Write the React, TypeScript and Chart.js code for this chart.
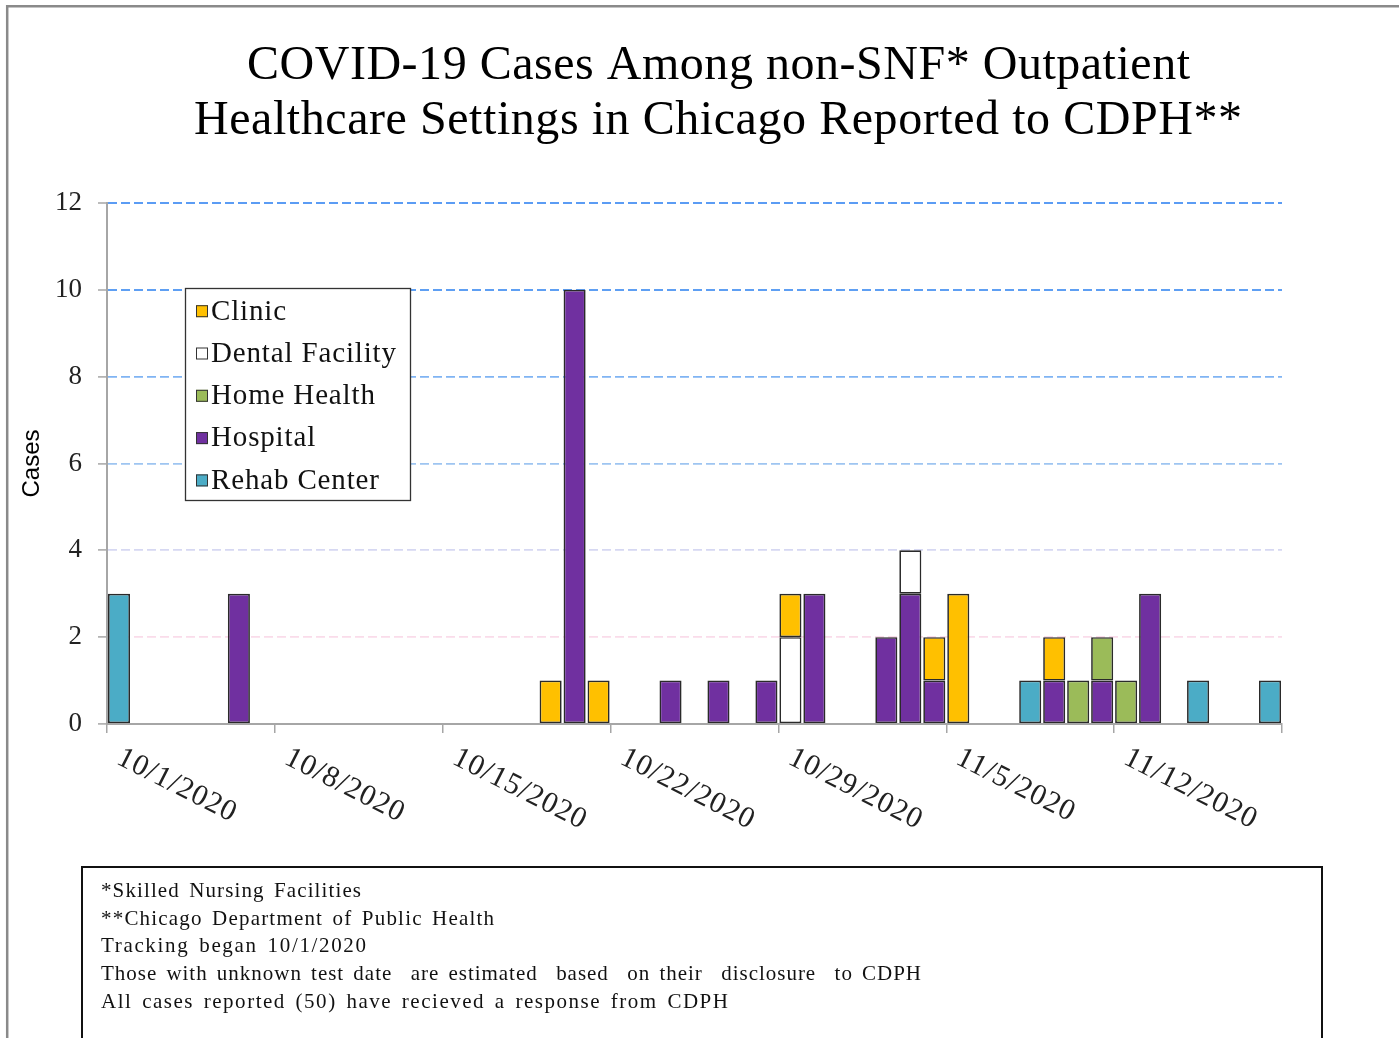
import React, { useEffect, useRef } from 'react';
import { Chart, registerables } from 'chart.js';

Chart.register(...registerables);

// ---------- DATA ----------
const categories: string[] = [
  '10/1/2020', '10/2/2020', '10/3/2020', '10/4/2020', '10/5/2020', '10/6/2020', '10/7/2020',
  '10/8/2020', '10/9/2020', '10/10/2020', '10/11/2020', '10/12/2020', '10/13/2020', '10/14/2020',
  '10/15/2020', '10/16/2020', '10/17/2020', '10/18/2020', '10/19/2020', '10/20/2020', '10/21/2020',
  '10/22/2020', '10/23/2020', '10/24/2020', '10/25/2020', '10/26/2020', '10/27/2020', '10/28/2020',
  '10/29/2020', '10/30/2020', '10/31/2020', '11/1/2020', '11/2/2020', '11/3/2020', '11/4/2020',
  '11/5/2020', '11/6/2020', '11/7/2020', '11/8/2020', '11/9/2020', '11/10/2020', '11/11/2020',
  '11/12/2020', '11/13/2020', '11/14/2020', '11/15/2020', '11/16/2020', '11/17/2020', '11/18/2020',
];

const tickLabels: string[] = ['10/1/2020', '10/8/2020', '10/15/2020', '10/22/2020', '10/29/2020', '11/5/2020', '11/12/2020'];

const hospital: number[] = [
  0, 0, 0, 0, 0, 3, 0,
  0, 0, 0, 0, 0, 0, 0,
  0, 0, 0, 0, 0, 10, 0,
  0, 0, 1, 0, 1, 0, 1,
  0, 3, 0, 0, 2, 3, 1,
  0, 0, 0, 0, 1, 0, 1,
  0, 3, 0, 0, 0, 0, 0,
];
const dental: number[] = [
  0, 0, 0, 0, 0, 0, 0,
  0, 0, 0, 0, 0, 0, 0,
  0, 0, 0, 0, 0, 0, 0,
  0, 0, 0, 0, 0, 0, 0,
  2, 0, 0, 0, 0, 1, 0,
  0, 0, 0, 0, 0, 0, 0,
  0, 0, 0, 0, 0, 0, 0,
];
const clinic: number[] = [
  0, 0, 0, 0, 0, 0, 0,
  0, 0, 0, 0, 0, 0, 0,
  0, 0, 0, 0, 1, 0, 1,
  0, 0, 0, 0, 0, 0, 0,
  1, 0, 0, 0, 0, 0, 1,
  3, 0, 0, 0, 1, 0, 0,
  0, 0, 0, 0, 0, 0, 0,
];
const homeHealth: number[] = [
  0, 0, 0, 0, 0, 0, 0,
  0, 0, 0, 0, 0, 0, 0,
  0, 0, 0, 0, 0, 0, 0,
  0, 0, 0, 0, 0, 0, 0,
  0, 0, 0, 0, 0, 0, 0,
  0, 0, 0, 0, 0, 1, 1,
  1, 0, 0, 0, 0, 0, 0,
];
const rehab: number[] = [
  3, 0, 0, 0, 0, 0, 0,
  0, 0, 0, 0, 0, 0, 0,
  0, 0, 0, 0, 0, 0, 0,
  0, 0, 0, 0, 0, 0, 0,
  0, 0, 0, 0, 0, 0, 0,
  0, 0, 0, 1, 0, 0, 0,
  0, 0, 0, 1, 0, 0, 1,
];

const seriesNames: string[] = ['Clinic', 'Dental Facility', 'Home Health', 'Hospital', 'Rehab Center'];
const seriesColors: string[] = ['#FFC000', '#FFFFFF', '#9BBB59', '#7030A0', '#4BACC6'];
const seriesData: number[][] = [clinic, dental, homeHealth, hospital, rehab];
// stacking order, bottom to top (indices into seriesNames)
const stackOrder: number[] = [3, 1, 0, 2, 4];

const titleLines: string[] = [
  'COVID-19 Cases Among non-SNF* Outpatient',
  'Healthcare Settings in Chicago Reported to CDPH**',
];
const yAxisTitle = 'Cases';
const footnotes: string[] = [
  '*Skilled Nursing Facilities',
  '**Chicago Department of Public Health',
  'Tracking began 10/1/2020',
  'Those with unknown test date  are estimated  based  on their  disclosure  to CDPH',
  'All cases reported (50) have recieved a response from CDPH',
];

// ---------- STYLE ----------
const W = 1399;
const H = 1038;
const SERIF = '"Liberation Serif", "Times New Roman", serif';
const gridColorByValue: Record<number, string> = {
  12: '#5B9CF4',
  10: '#5E9FF3',
  8: '#80B4F3',
  6: '#9EC5F1',
  4: '#D6D8F2',
  2: '#FADCEA',
  0: 'rgba(0,0,0,0)',
};

function drawFitted(ctx: CanvasRenderingContext2D, text: string, x: number, y: number, width: number) {
  (ctx as any).letterSpacing = '0px';
  const w0 = ctx.measureText(text).width;
  const ls = (width - w0) / Math.max(1, text.length - 1);
  (ctx as any).letterSpacing = ls.toFixed(3) + 'px';
  ctx.fillText(text, x, y);
  (ctx as any).letterSpacing = '0px';
}

const overlayPlugin = {
  id: 'overlay',
  beforeDraw(chart: any) {
    const ctx: CanvasRenderingContext2D = chart.ctx;
    ctx.save();
    ctx.fillStyle = '#ffffff';
    ctx.fillRect(0, 0, W, H);
    ctx.strokeStyle = '#8a8a8a';
    ctx.lineWidth = 2.5;
    ctx.beginPath();
    ctx.moveTo(7.2, H + 5);
    ctx.lineTo(7.2, 6.2);
    ctx.lineTo(W + 5, 6.2);
    ctx.stroke();
    ctx.restore();
  },
  afterDraw(chart: any) {
    const ctx: CanvasRenderingContext2D = chart.ctx;
    const xs = chart.scales.x;
    const ys = chart.scales.y;
    ctx.save();

    // Title
    ctx.fillStyle = '#000';
    ctx.textAlign = 'left';
    ctx.textBaseline = 'alphabetic';
    ctx.font = `48px ${SERIF}`;
    drawFitted(ctx, titleLines[0], 247, 79, 943);
    drawFitted(ctx, titleLines[1], 194, 134, 1048);

    // Y axis title
    ctx.save();
    ctx.font = '24px "Liberation Sans", Arial, sans-serif';
    ctx.fillStyle = '#000';
    ctx.translate(38.5, (ys.top + ys.bottom) / 2);
    ctx.rotate(-Math.PI / 2);
    ctx.textAlign = 'center';
    ctx.textBaseline = 'alphabetic';
    ctx.fillText(yAxisTitle, 0, 0);
    ctx.restore();

    // X tick labels (rotated clockwise)
    const half = (xs.getPixelForValue(1) - xs.getPixelForValue(0)) / 2;
    ctx.font = `30px ${SERIF}`;
    ctx.fillStyle = '#222';
    (ctx as any).letterSpacing = '1px';
    ctx.textAlign = 'left';
    ctx.textBaseline = 'alphabetic';
    tickLabels.forEach((lab) => {
      const idx = categories.indexOf(lab);
      const bx = xs.getPixelForValue(idx) - half;
      ctx.save();
      ctx.translate(bx, xs.top);
      ctx.rotate((27 * Math.PI) / 180);
      ctx.fillText(lab, 25, 31);
      ctx.restore();
    });
    (ctx as any).letterSpacing = '0px';

    // Legend box
    const lx = 185, ly = 288, lw = 225, lh = 212;
    ctx.fillStyle = '#fff';
    ctx.fillRect(lx, ly, lw, lh);
    ctx.strokeStyle = '#333';
    ctx.lineWidth = 1.3;
    ctx.strokeRect(lx + 0.5, ly + 0.5, lw, lh);
    ctx.font = `29px ${SERIF}`;
    (ctx as any).letterSpacing = '0px';
    const refW0 = ctx.measureText('Dental Facility').width;
    const legLs = (185 - refW0) / 14;
    seriesNames.forEach((name, i) => {
      const base = 319.5 + i * 42.3;
      const cy = base - 8.3;
      ctx.fillStyle = seriesColors[i];
      ctx.fillRect(196, cy - 6, 12, 12);
      ctx.strokeStyle = '#333';
      ctx.lineWidth = 1;
      ctx.strokeRect(196.5, cy - 5.5, 11, 11);
      ctx.fillStyle = '#111';
      (ctx as any).letterSpacing = legLs.toFixed(3) + 'px';
      ctx.fillText(name, 211, base);
    });
    (ctx as any).letterSpacing = '0px';

    // Footnote box
    ctx.strokeStyle = '#111';
    ctx.lineWidth = 2;
    ctx.beginPath();
    ctx.moveTo(82, H + 5);
    ctx.lineTo(82, 867);
    ctx.lineTo(1322, 867);
    ctx.lineTo(1322, H + 5);
    ctx.stroke();
    ctx.fillStyle = '#111';
    ctx.font = `21px ${SERIF}`;
    (ctx as any).wordSpacing = '3px';
    const ends = [361, 494, 366, 921, 728];
    footnotes.forEach((t, i) => {
      drawFitted(ctx, t, 101, 897 + i * 27.7, ends[i] - 101);
    });
    (ctx as any).wordSpacing = '0px';

    ctx.restore();
  },
};

export default function App() {
  const ref = useRef<HTMLCanvasElement | null>(null);

  useEffect(() => {
    if (!ref.current) return;
    const datasets = stackOrder.map((si) => ({
      label: seriesNames[si],
      data: seriesData[si].map((v) => (v ? v : null)),
      backgroundColor: seriesColors[si],
      borderColor: '#2a2a2a',
      borderWidth: 1.7,
      borderSkipped: false as const,
      categoryPercentage: 1,
      barPercentage: 0.92,
    }));
    const chart = new Chart(ref.current, {
      type: 'bar',
      data: { labels: categories, datasets: datasets as any },
      options: {
        responsive: false,
        animation: false,
        devicePixelRatio: 1,
        layout: { padding: { left: 0, top: 203, right: 117, bottom: 304 } },
        plugins: {
          legend: { display: false },
          title: { display: false },
          tooltip: { enabled: false },
        },
        scales: {
          x: {
            type: 'category',
            stacked: true,
            offset: true,
            grid: {
              offset: true,
              drawOnChartArea: false,
              drawTicks: true,
              tickLength: 9,
              lineWidth: 1.5,
              color: '#a6a6a6',
              tickColor: (c: any) => {
                if (c.type !== 'tick') return '#a6a6a6';
                return c.index % 7 === 0 ? '#a6a6a6' : 'rgba(0,0,0,0)';
              },
            },
            border: { display: true, color: '#a6a6a6', width: 2 },
            ticks: { display: false },
            afterFit: (s: any) => {
              s.height = 10;
            },
          } as any,
          y: {
            stacked: true,
            min: 0,
            max: 12,
            ticks: {
              stepSize: 2,
              padding: 16,
              color: '#222',
              font: { family: SERIF, size: 27 },
            },
            grid: {
              color: (c: any) => (c.tick ? gridColorByValue[c.tick.value] || 'rgba(0,0,0,0)' : 'rgba(0,0,0,0)'),
              lineWidth: (c: any) => (c.tick && c.tick.value >= 10 ? 2 : 1.8),
              tickColor: '#a6a6a6',
              tickLength: 9,
              tickWidth: 1.5,
            },
            border: { display: true, color: '#a6a6a6', width: 2, dash: [9, 4] },
            afterFit: (s: any) => {
              s.width = 107;
            },
          } as any,
        },
      },
      plugins: [overlayPlugin],
    });
    return () => chart.destroy();
  }, []);

  return (
    <div style={{ position: 'fixed', left: 0, top: 0, width: W, height: H, background: '#fff' }}>
      <canvas ref={ref} width={W} height={H} style={{ width: W, height: H, display: 'block' }} />
    </div>
  );
}
